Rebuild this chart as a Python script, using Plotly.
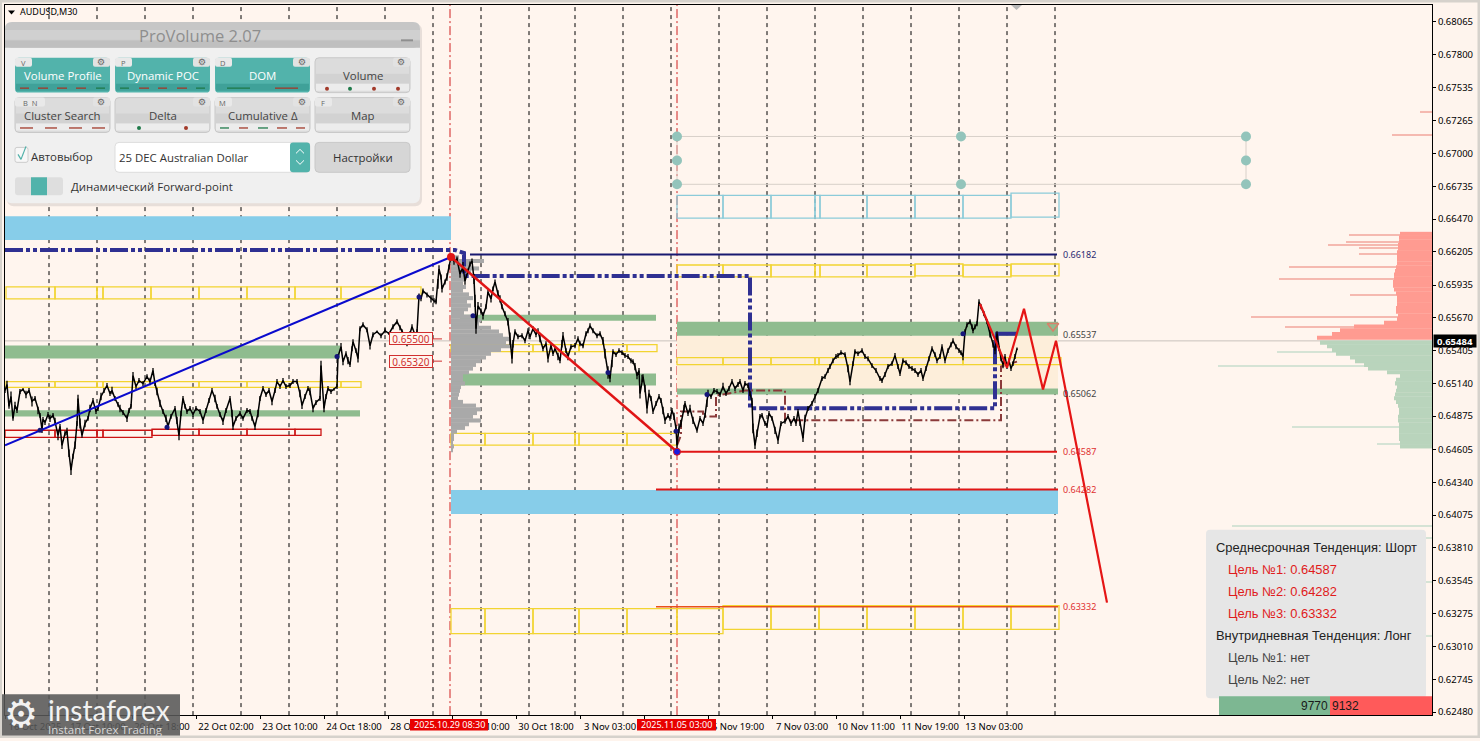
import plotly.graph_objects as go

# ---------- chart data (x = M30 bar number, y = AUDUSD price) ----------
PRICE_BARS = [
 5,7,9,11,13,15,17,20,23,26,
 29,32,35,38,40,42,43,45,48,50,
 53,55,58,60,62,65,67,69,71,73,
 75,77,78,80,82,85,88,90,93,96,
 98,101,104,107,110,112,115,118,120,123,
 127,129,131,133,136,139,143,147,150,153,
 155,157,160,163,166,168,171,175,177,179,
 181,183,185,187,190,193,196,200,203,206,
 209,212,215,217,220,223,226,230,232,233,
 236,240,243,247,250,252,255,258,260,263,
 266,269,272,275,277,280,283,286,290,293,
 297,300,302,305,308,310,313,316,320,321,
 324,326,328,331,334,337,338,341,343,346,
 348,350,352,353,356,358,360,363,367,370,
 373,377,381,385,389,393,397,400,402,405,
 407,410,412,415,417,419,421,423,427,431,
 434,436,438,439,441,442,445,447,449,451,
 454,457,460,463,465,468,470,472,474,475,
 476,478,481,483,486,488,491,493,495,498,
 500,502,505,508,510,512,513,515,518,522,
 525,528,530,533,536,538,540,543,546,548,
 551,553,555,558,560,562,563,566,568,571,
 575,578,580,583,586,588,590,593,597,600,
 603,605,608,610,612,613,616,619,622,625,
 628,631,633,635,637,639,640,642,643,645,
 647,649,651,653,656,659,661,663,665,668,
 670,672,674,676,677,679,681,684,685,688,
 690,693,697,700,703,705,707,708,711,714,
 717,720,723,726,729,732,735,738,740,743,
 745,748,750,752,753,755,757,760,762,765,
 767,769,772,775,778,781,785,788,791,794,
 796,798,800,803,805,808,812,815,818,822,
 825,828,830,833,836,838,841,845,848,850,
 853,855,858,862,865,868,872,876,880,882,
 885,888,892,895,898,900,903,906,909,912,
 915,918,921,923,926,929,932,935,937,940,
 942,945,948,951,953,956,959,961,963,965,
 967,970,972,973,975,977,979,981,984,987,
 990,993,995,997,999,1001,1003,1005,1007,1009,
 1011,1013,1015,1017]
PRICE_CLOSE = [
 .65082,.65131,.64954,.65034,.64857,.64962,.64921,.65074,.65091,.65050,
 .65082,.64994,.65018,.64921,.64881,.64768,.64849,.64824,.64889,.64857,
 .64881,.64833,.6472,.64792,.64639,.64736,.64752,.64575,.64438,.64551,
 .64639,.64816,.65018,.64816,.6472,.64816,.64857,.64937,.65002,.64913,
 .64937,.65034,.65082,.65123,.65058,.65082,.65018,.6497,.64937,.64905,
 .64857,.64921,.64954,.65203,.65115,.65163,.65139,.65195,.65155,.65244,
 .65139,.65074,.64978,.64913,.64857,.64792,.64873,.64937,.64841,.6472,
 .64897,.65018,.64954,.64913,.64937,.64889,.64937,.64913,.64841,.64921,
 .65002,.65082,.65018,.64954,.64889,.64833,.64921,.65018,.64897,.64792,
 .64857,.64897,.64857,.64921,.64913,.64857,.64792,.64897,.65018,.65099,
 .6505,.65082,.64994,.65082,.65155,.65115,.65163,.65115,.65123,.65155,
 .65155,.65058,.64962,.65034,.65099,.65074,.64937,.64986,.65018,.65284,
 .64937,.65034,.65099,.65074,.65091,.65115,.65357,.65437,.65316,.65381,
 .65324,.65292,.65421,.65477,.65405,.6534,.65582,.65614,.65574,.65445,
 .65534,.65558,.65526,.65566,.65542,.65598,.65639,.6559,.65558,.65518,
 .65461,.65542,.65598,.65534,.65558,.65848,.65824,.65888,.65856,.65824,
 .65808,.658,.65945,.66066,.66001,.65905,.65961,.66001,.66082,.66163,
 .6613,.66146,.66025,.66082,.65969,.6605,.66106,.6613,.65985,.65808,
 .65582,.65768,.65727,.65687,.6576,.6588,.65824,.65905,.65961,.65864,
 .65824,.6576,.65703,.65639,.65502,.6534,.65461,.65558,.65518,.65526,
 .65485,.65566,.65518,.65582,.65534,.65566,.65502,.65421,.65461,.6534,
 .65445,.65381,.65421,.65357,.65324,.65461,.65526,.65405,.65357,.65437,
 .65445,.65502,.65461,.65445,.65542,.65566,.65606,.65566,.65526,.65542,
 .65485,.65381,.65228,.65179,.653,.65397,.65373,.65405,.65389,.65365,
 .65357,.65324,.65316,.65276,.65203,.65244,.65058,.65179,.65195,.65099,
 .64937,.65058,.65018,.64913,.64978,.65034,.65002,.64921,.64841,.64881,
 .64857,.64921,.64873,.64776,.64639,.64776,.64816,.64937,.64978,.64897,
 .64937,.64841,.6476,.64857,.64816,.64881,.64978,.65058,.65034,.65082,
 .65074,.6505,.65115,.65058,.65099,.65155,.65099,.65131,.65155,.65082,
 .65139,.65123,.65058,.64994,.64776,.64639,.64736,.64873,.64881,.64816,
 .648,.64897,.64857,.6476,.64679,.64816,.64833,.64873,.64816,.64857,
 .64816,.64913,.64816,.64696,.64857,.64937,.64978,.65034,.65082,.65179,
 .65195,.65244,.65276,.65324,.65357,.65365,.65389,.65373,.6526,.65155,
 .653,.65397,.65381,.65405,.65357,.6534,.65284,.65244,.65179,.65163,
 .65212,.65276,.653,.65365,.65276,.6522,.65324,.65308,.65276,.6526,
 .65244,.65212,.65244,.65179,.6526,.6534,.65421,.65373,.65324,.65357,
 .65437,.65324,.65405,.65453,.65485,.65437,.65405,.65389,.65357,.65558,
 .65614,.65639,.65598,.65566,.65598,.65622,.658,.6576,.65703,.65639,
 .65542,.65461,.65405,.65542,.65421,.6534,.65292,.65357,.65276,.65324,
 .6526,.653,.65357,.65421]
# half of each bar's high-low swing
PRICE_SWING = [
 .0002,.0003,.0002,.0004,.0002,.0003,.0002,.0002,.0001,.0003,
 .0002,.0004,.0002,.0003,.0002,.0003,.0002,.0002,.0002,.0003,
 .0002,.0003,.0004,.0002,.0003,.0002,.0003,.0003,.0004,.0002,
 .0003,.0002,.0003,.0004,.0002,.0003,.0002,.0003,.0002,.0002,
 .0002,.0003,.0002,.0002,.0002,.0003,.0002,.0002,.0003,.0002,
 .0003,.0002,.0002,.0003,.0002,.0002,.0002,.0002,.0003,.0002,
 .0002,.0003,.0003,.0002,.0003,.0003,.0002,.0002,.0003,.0004,
 .0002,.0002,.0002,.0002,.0002,.0002,.0002,.0002,.0003,.0002,
 .0002,.0002,.0003,.0002,.0002,.0003,.0002,.0002,.0003,.0003,
 .0002,.0002,.0002,.0002,.0002,.0002,.0003,.0003,.0002,.0002,
 .0002,.0002,.0003,.0002,.0002,.0002,.0002,.0002,.0002,.0002,
 .0002,.0003,.0003,.0002,.0002,.0003,.0003,.0002,.0002,.0004,
 .0003,.0002,.0002,.0002,.0001,.0002,.0002,.0003,.0003,.0002,
 .0003,.0002,.0002,.0002,.0002,.0003,.0002,.0002,.0002,.0003,
 .0002,.0001,.0002,.0002,.0001,.0002,.0002,.0002,.0002,.0002,
 .0002,.0002,.0002,.0002,.0002,.0002,.0002,.0002,.0002,.0003,
 .0002,.0002,.0004,.0003,.0002,.0003,.0002,.0003,.0002,.0002,
 .0003,.0002,.0003,.0004,.0003,.0002,.0002,.0002,.0004,.0005,
 .0004,.0003,.0002,.0003,.0002,.0002,.0003,.0002,.0002,.0003,
 .0003,.0002,.0002,.0003,.0005,.0004,.0003,.0002,.0002,.0002,
 .0002,.0002,.0002,.0002,.0002,.0002,.0003,.0002,.0002,.0003,
 .0002,.0002,.0002,.0003,.0002,.0003,.0003,.0002,.0003,.0002,
 .0002,.0002,.0002,.0002,.0002,.0002,.0002,.0002,.0002,.0002,
 .0003,.0004,.0005,.0003,.0003,.0002,.0002,.0002,.0002,.0002,
 .0002,.0002,.0002,.0003,.0003,.0002,.0004,.0003,.0002,.0003,
 .0004,.0003,.0002,.0002,.0002,.0002,.0002,.0003,.0003,.0002,
 .0002,.0002,.0003,.0003,.0003,.0004,.0003,.0003,.0002,.0002,
 .0003,.0003,.0002,.0002,.0002,.0002,.0003,.0003,.0002,.0002,
 .0002,.0002,.0003,.0002,.0002,.0002,.0002,.0002,.0002,.0002,
 .0002,.0002,.0002,.0003,.0004,.0003,.0003,.0002,.0002,.0002,
 .0002,.0002,.0002,.0003,.0003,.0002,.0002,.0002,.0002,.0002,
 .0002,.0002,.0002,.0003,.0003,.0002,.0002,.0002,.0002,.0002,
 .0002,.0002,.0002,.0002,.0002,.0002,.0002,.0002,.0003,.0003,
 .0002,.0002,.0002,.0002,.0002,.0002,.0002,.0002,.0002,.0002,
 .0002,.0002,.0002,.0002,.0002,.0002,.0002,.0002,.0002,.0002,
 .0002,.0002,.0002,.0002,.0002,.0002,.0002,.0002,.0002,.0002,
 .0002,.0002,.0002,.0002,.0002,.0002,.0002,.0002,.0003,.0002,
 .0002,.0002,.0002,.0002,.0002,.0002,.0002,.0002,.0002,.0002,
 .0003,.0003,.0003,.0002,.0002,.0002,.0003,.0002,.0002,.0002,
 .0002,.0002,.0002,.0001]

Y_TICKS = ["0.68065","0.67800","0.67535","0.67265","0.67000","0.66735","0.66470","0.66205",
           "0.65935","0.65670","0.65405","0.65140","0.64875","0.64605","0.64340","0.64075",
           "0.63810","0.63545","0.63275","0.63010","0.62745","0.62480"]
X_TICK_BARS = [5,68,132,196,260,324,388,452,516,580,644,708,772,836,900,964]
X_TICK_TEXT = ["16 Oct 2025","17 Oct 10:00","20 Oct 18:00","22 Oct 02:00","23 Oct 10:00","24 Oct 18:00",
               "28 Oct 02:00","29 Oct 10:00","30 Oct 18:00","3 Nov 03:00","","5 Nov 19:00",
               "7 Nov 03:00","10 Nov 11:00","11 Nov 19:00","13 Nov 03:00"]
DAY_BARS = [49,97,145,193,241,289,337,385,433,481,529,575,623,671,719,767,815,863,911,959,1007,1055]
EVENT_BARS = [450,677]
BID = 0.65484
LAST_BAR = 1432

TARGET_LEVELS = [0.66182,0.64587,0.64282,0.63332]
TARGET_START = [470,677,656,656]
TARGET_END = [1057,1057,1058,1058]
TARGET_COLORS = ["#191970","#e01515","#e01515","#e8501a"]
TARGET_WIDTHS = [2,2,2,1.5]
TARGET_LABELS = ["0.66182","0.64587","0.64282","0.63332"]

TREND_UP_BARS = [5,451];  TREND_UP = [.64639,.66163]
TREND_DN_BARS = [451,677]; TREND_DN = [.66163,.64587]
FORECAST_BARS = [980,1007,1024,1043,1056,1107]
FORECAST = [.65784,.65268,.65743,.65091,.65485,.63366]
POC_BARS = [5,455,464,464,750,750,995,995]
POC = [.66219,.66219,.66195,.66010,.66010,.64938,.64938,.65421]
POC_TAIL_BARS = [995,997,1017]
POC_TAIL = [.65421,.65542,.65542]
MAROON_BARS = [677,681,681,703,703,716,716,745,785,785,1001,1001,1017]
MAROON = [.64639,.6472,.64913,.64913,.64873,.64873,.65042,.65082,.65082,.64841,.64841,.65276,.65316]
PIVOT_BARS = [337,167,40,473,608,707,963,676,419]
PIVOTS = [.65357,.64786,.64761,.65687,.65228,.65051,.65542,.64752,.65840]
GRID_NODE_BARS = [677,961,1246,677,1246,677,961,1246]
GRID_NODES = [.67138,.67138,.67138,.66944,.66944,.66751,.66751,.66751]

# filled zones: first bar, last bar, top price, bottom price
SKY_ZONES = [(5,451,.66493,.66300),(451,1058,.64277,.64084)]
GREEN_ZONES = [(5,340,.65446,.65341),(5,360,.64922,.64873),(460,656,.65695,.65647),(451,656,.65220,.65123),
               (677,1058,.65639,.65526),(677,1058,.65099,.65051)]
BEIGE_ZONE = (677,1058,.65526,.65099)
# boxes in a row: bar boundaries, top price, bottom price
YELLOW_ROWS = [
 ([6,55,97,103,151,199,247,295,341,389,421],.65921,.65824),
 ([6,55,97,103,199,247,337,341,361],.65155,.65107),
 ([451,485,533,579,627,657],.65454,.65397),
 ([451,485,533,575,579,627,677],.64736,.64640),
 ([677,723,771,815,819,963,1061],.65349,.65292),
 ([677,723,771,815,820,867,915],.66098,.66002),
 ([915,963],.66106,.66010),([963,1011],.66098,.66002),([1011,1059],.66106,.66010),
 ([451,485,533,579,627,677,723],.63318,.63116),
 ([723,771,819,867,915,963,1011,1059],.63342,.63149)]
SKY_ROWS = [([677,723,771,815,820,867,915,963,1011],.66662,.66477),([1011,1059],.66679,.66485)]
RED_ROWS = [([5,55,97,103,152],.64761,.64704),([152,199,247,295,321],.64769,.64720)]

# session volume profile
PROFILE_LEVELS = [.6616,.6613,.661,.6607,.6604,.6601,.6598,.6595,.6592,.6589,.6586,.6583,.658,.6577,.6574,.6571,.6568,.6565,
 .6562,.6559,.6556,.6553,.655,.6547,.6544,.6541,.6538,.6535,.6532,.6529,.6526,.6523,.652,.6517,.6514,.6511,.6508,.6505,.6502,
 .6499,.6496,.6493,.649,.6487,.6484,.6481,.6478,.6475,.6472,.6469,.6466,.6463,.646]
PROFILE_VOLUME = [8,33,20,28,20,15,14,12,15,12,18,22,16,20,17,13,22,30,28,40,48,52,58,55,62,50,40,35,30,25,22,18,12,12,14,10,9,8,7,
 12,25,30,26,22,30,18,14,6,3,3,2,3,2]
# order book
ASK_LEVELS = [.6635,.6632,.6629,.6626,.6623,.662,.6617,.6614,.6611,.6608,.6605,.6602,.6599,.6596,.6593,.659,.6587,.6584,.6581,.6578,
 .6575,.6572,.6569,.6566,.6563,.656,.6557,.6554,.6551]
ASK_SIZE = [32,33,33,34,34,35,35,35,35,36,37,38,38,39,39,38,36,35,35,35,36,36,34,35,48,78,92,100,115]
BID_LEVELS = [.6547,.6544,.6541,.6538,.6535,.6532,.6529,.6526,.6523,.652,.6517,.6514,.6511,.6508,.6505,.6502,.6499,.6496,.6493,.649,
 .6487,.6484,.6481,.6478,.6475,.6472,.6469,.6466,.6463]
BID_SIZE = [112,105,100,96,82,77,68,64,45,32,36,37,35,36,37,38,36,34,33,33,34,34,33,33,33,33,33,32,32]
ASK_SPIKE_LEVELS = [.6734,.67154,.6634,.66284,.6626,.66235,.66187,.66082,.65985,.65856,.65679,.65598]
ASK_SPIKE_SIZE = [12,40,83,86,104,73,73,143,153,82,181,147]
BID_SPIKE_LEVELS = [.65397,.65284,.64785,.64648,.63987,.6389,.6353,.6310]
BID_SPIKE_SIZE = [155,214,140,55,200,9,8,30]

INFO_LINES = [("Среднесрочная Тенденция: Шорт",1216,"#222222"),("Цель №1: 0.64587",1228,"#e01b1b"),("Цель №2: 0.64282",1228,"#e01b1b"),
              ("Цель №3: 0.63332",1228,"#e01b1b"),("Внутридневная Тенденция: Лонг",1216,"#222222"),("Цель №1: нет",1228,"#444444"),("Цель №2: нет",1228,"#444444")]

# ---------- helpers ----------
W, H = 1480, 741
def X(px): return px / W
def Y(py): return 1 - py / H
shapes, notes = [], []

def rect(x0, y0, x1, y1, fill, line=None, lw=0, layer="above"):
    shapes.append(dict(type="rect", xref="paper", yref="paper", x0=X(x0), x1=X(x1), y0=Y(y0), y1=Y(y1),
                       fillcolor=fill, line=dict(color=line or fill, width=lw), layer=layer))
def rrect(x0, y0, x1, y1, r, fill, line=None, lw=0):
    p = (f"M{X(x0+r)},{Y(y0)} L{X(x1-r)},{Y(y0)} Q{X(x1)},{Y(y0)} {X(x1)},{Y(y0+r)} "
         f"L{X(x1)},{Y(y1-r)} Q{X(x1)},{Y(y1)} {X(x1-r)},{Y(y1)} L{X(x0+r)},{Y(y1)} "
         f"Q{X(x0)},{Y(y1)} {X(x0)},{Y(y1-r)} L{X(x0)},{Y(y0+r)} Q{X(x0)},{Y(y0)} {X(x0+r)},{Y(y0)} Z")
    shapes.append(dict(type="path", xref="paper", yref="paper", path=p, fillcolor=fill,
                       line=dict(color=line or fill, width=lw), layer="above"))
def seg(x0, y0, x1, y1, color, lw=1):
    shapes.append(dict(type="line", xref="paper", yref="paper", x0=X(x0), x1=X(x1), y0=Y(y0), y1=Y(y1),
                       line=dict(color=color, width=lw), layer="above"))
def dot(x, y, r, color):
    shapes.append(dict(type="circle", xref="paper", yref="paper", x0=X(x-r), x1=X(x+r), y0=Y(y-r), y1=Y(y+r),
                       fillcolor=color, line=dict(width=0), layer="above"))
def text(x, y, s, size, color, anchor="left", font="Open Sans"):
    notes.append(dict(xref="paper", yref="paper", x=X(x), y=Y(y), text=s, showarrow=False, xanchor=anchor, yanchor="middle",
                      font=dict(family=font, size=size, color=color), borderpad=0, borderwidth=0))
def zone(z, fill):
    shapes.append(dict(type="rect", xref="x", yref="y", x0=z[0], x1=z[1], y0=z[3], y1=z[2], fillcolor=fill,
                       line=dict(width=0), layer="below"))
def box_rows(rows, color, lw=1.3):
    for bounds, top, bot in rows:
        for a, b in zip(bounds[:-1], bounds[1:]):
            shapes.append(dict(type="rect", xref="x", yref="y", x0=a, x1=b, y0=bot, y1=top,
                               line=dict(color=color, width=lw), fillcolor="rgba(0,0,0,0)", layer="below"))

# ---------- zones and grid ----------
zone(BEIGE_ZONE, "#fdeeda")
for z in SKY_ZONES: zone(z, "#87cde9")
for z in GREEN_ZONES: zone(z, "#8fbc8f")
for b in DAY_BARS:
    shapes.append(dict(type="line", xref="x", yref="y domain", x0=b, x1=b, y0=0, y1=1,
                       line=dict(color="#000000", width=1, dash="4px,4px"), layer="below"))
for b in EVENT_BARS:
    shapes.append(dict(type="line", xref="x", yref="y domain", x0=b, x1=b, y0=0, y1=1,
                       line=dict(color="#d02020", width=1, dash="9px,3px,2px,3px"), layer="below"))
shapes.append(dict(type="line", xref="x domain", yref="y", x0=0, x1=1, y0=BID, y1=BID,
                   line=dict(color="#c9c2bc", width=1), layer="below"))
box_rows(YELLOW_ROWS, "#f2d431")
box_rows(SKY_ROWS, "#8ccbd9")
box_rows(RED_ROWS, "#cc1414")

# ---------- traces ----------
fig = go.Figure()
def hbar(levels, sizes, base, sign, color, thick):
    fig.add_trace(go.Bar(orientation="h", y=levels, x=[sign*s for s in sizes], base=base, width=thick,
                         marker=dict(color=color, line=dict(width=0)), hoverinfo="skip"))
def line(xs, ys, color, width, dash="solid"):
    fig.add_trace(go.Scatter(x=xs, y=ys, mode="lines", line=dict(color=color, width=width, dash=dash), hoverinfo="skip"))

hbar(ASK_SPIKE_LEVELS, ASK_SPIKE_SIZE, LAST_BAR, -1, "#f5b9b0", .00009)
hbar(BID_SPIKE_LEVELS, BID_SPIKE_SIZE, LAST_BAR, -1, "#d5e3d5", .00009)
hbar(ASK_LEVELS, ASK_SIZE, LAST_BAR, -1, "#ff9b91", .00033)
hbar(BID_LEVELS, BID_SIZE, LAST_BAR, -1, "#b9d4bc", .00033)
hbar(PROFILE_LEVELS, PROFILE_VOLUME, EVENT_BARS[0]+1, 1, "#a9a9a9", .00033)

line([677,1246,1246,677,677], [.67138,.67138,.66751,.66751,.67138], "#d8d0c9", 1)
fig.add_trace(go.Scatter(x=GRID_NODE_BARS, y=GRID_NODES, mode="markers", marker=dict(color="#93c4bb", size=10), hoverinfo="skip"))
line(POC_BARS, POC, "#2f3092", 4, "18px,3px,4px,3px,4px,3px")
line(POC_TAIL_BARS, POC_TAIL, "#2f3092", 4)
line(MAROON_BARS, MAROON, "#8b3a3a", 2, "9px,3px,2px,3px")
fig.add_trace(go.Scatter(x=PRICE_BARS, y=PRICE_CLOSE, mode="lines", line=dict(color="#000000", width=1.5), hoverinfo="skip",
                         error_y=dict(type="data", array=PRICE_SWING, visible=True, thickness=1.3, width=0, color="#000000")))
for lvl, a, b, c, w in zip(TARGET_LEVELS, TARGET_START, TARGET_END, TARGET_COLORS, TARGET_WIDTHS):
    line([a, b], [lvl, lvl], c, w)
line(TREND_UP_BARS, TREND_UP, "#0a0acd", 2)
line(TREND_DN_BARS, TREND_DN, "#e01515", 2.5)
line(FORECAST_BARS, FORECAST, "#e51515", 2.2)
fig.add_trace(go.Scatter(x=PIVOT_BARS, y=PIVOTS, mode="markers", marker=dict(color="#15157a", size=5), hoverinfo="skip"))
fig.add_trace(go.Scatter(x=[451], y=[TREND_DN[0]], mode="markers", marker=dict(color="#e01515", size=8), hoverinfo="skip"))
fig.add_trace(go.Scatter(x=[677], y=[TREND_DN[1]], mode="markers", marker=dict(color="#1a1ae0", size=7, line=dict(color="#e01515", width=1)), hoverinfo="skip"))
fig.add_trace(go.Scatter(x=[1053], y=[.65605], mode="markers", marker=dict(symbol="triangle-down-open", color="#d8806a", size=10, line=dict(width=1.5)), hoverinfo="skip"))
line([432,442], [.65500,.65500], "#d03030", 1)
line([432,442], [.65320,.65320], "#d03030", 1)

# ---------- level labels ----------
def level_label(bar, price, s, color, size=9):
    notes.append(dict(xref="x", yref="y", x=bar, y=price, text=s, showarrow=False, xanchor="left", yanchor="middle",
                      font=dict(family="Noto Sans", size=size, color=color)))
for lvl, s, c in zip(TARGET_LEVELS, TARGET_LABELS, ["#2a2a70","#e03030","#e03030","#e03030"]):
    level_label(1061, lvl, s, c)
level_label(1061, .65537, "0.65537", "#444444")
level_label(1061, .65062, "0.65062", "#444444")
for p, s in [(.65500, "0.65500"), (.65320, "0.65320")]:
    notes.append(dict(xref="x", yref="y", x=410.5, y=p, text=s, showarrow=False, xanchor="center", yanchor="middle", width=42, height=11,
                      bgcolor="#fff5ee", bordercolor="#d03030", borderwidth=1, borderpad=0, font=dict(family="Noto Sans", size=10, color="#d03030")))
notes.append(dict(xref="paper", yref="y", x=X(1455), y=BID, text="<b>0.65484</b>", showarrow=False, xanchor="center", yanchor="middle",
                  bgcolor="#000000", font=dict(family="Noto Sans", size=9.5, color="#ffffff"), width=42, height=12, borderpad=0))

# ---------- top-left title ----------
text(20, 12, "AUDUSD,M30", 9, "#000000", font="Noto Sans")
shapes.append(dict(type="path", xref="paper", yref="paper", fillcolor="#000000", line=dict(width=0), layer="above",
                   path=f"M{X(8)},{Y(10.5)} L{X(15)},{Y(10.5)} L{X(11.5)},{Y(14.5)} Z"))
shapes.append(dict(type="path", xref="paper", yref="paper", fillcolor="#b8b8b8", line=dict(width=0), layer="above",
                   path=f"M{X(1011)},{Y(5)} L{X(1022)},{Y(5)} L{X(1016.5)},{Y(10)} Z"))

# ---------- ProVolume panel ----------
rrect(7, 24, 422, 207, 7, "rgba(120,120,120,0.18)")
rrect(5, 22, 420, 204, 7, "#f0f0f0")
rrect(5, 22, 420, 48, 7, "#c6c6c6")
rect(5, 30, 420, 40, "#d0d0d0")
rect(5, 41, 420, 48, "#bfbfbf")
text(200, 36, "ProVolume 2.07", 16.5, "#8e8e8e", "center")
seg(401, 40.5, 413, 40.5, "#8f8f8f", 2)

RED, GREEN = "#a23a2a", "#1f7a4a"
BUTTONS = [
 (15,58,"Volume Profile","V",True),(115,58,"Dynamic POC","P",True),(215,58,"DOM","D",True),(315,58,"Volume","",False),
 (15,98,"Cluster Search","B  N",False),(115,98,"Delta","",False),(215,98,"Cumulative Δ","M",False),(315,98,"Map","F",False)]
for bx, by, label, tag, on in BUTTONS:
    body = "#52b3ab" if on else "#dcdcdc"
    strip = "#3fa199" if on else "#ececec"
    rrect(bx, by, bx+95, by+35, 4, body, None if on else "#c8c8c8", 0 if on else 1)
    if not on:
        rect(bx+1, by+16, bx+94, by+26, "#d2d2d2")
    rect(bx+1, by+26, bx+94, by+33, strip)
    text(bx+47.5, by+18, label, 11.4, "#ffffff" if on else "#444444", "center")
    if tag:
        rrect(bx, by, bx+(30 if len(tag) > 1 else 17), by+9, 2, "#e9e9e9")
        text(bx+(15 if len(tag) > 1 else 8), by+5, tag, 7.5, "#666666", "center")
    rrect(bx+78, by, bx+95, by+9, 2, "#e2e2e2")
    text(bx+86.5, by+4.5, "⚙", 9, "#666666", "center", "DejaVu Sans")
for a, b, c in [(20,29,RED),(38,48,RED),(57,67,RED),(76,86,RED),(96,105,GREEN),(120,129,GREEN),(139,149,RED),(158,167,RED),
                (177,187,RED),(196,205,GREEN),(227,250,GREEN),(275,298,RED)]:
    seg(a, 88.5, b, 88.5, c, 1.3)
for a, b, c in [(20,33,RED),(45,57,RED),(69,82,RED),(92,105,RED),(220,229,GREEN),(239,248,RED),(258,268,GREEN),(277,287,RED),(296,305,RED)]:
    seg(a, 128.5, b, 128.5, c, 1.3)
for a, py, c in [(327,89,RED),(350,89,GREEN),(374,89,RED),(398,89,RED),(139,128.5,GREEN),(186,128.5,RED)]:
    dot(a, py, 2, c)

rrect(15, 148, 28, 163, 2, "#f7f7f7", "#cccccc", 1)
seg(18, 155, 21, 160, "#4fb0a8", 1.2)
seg(21, 160, 26, 147, "#4fb0a8", 1.2)
text(31, 157, "Автовыбор", 11.4, "#333333")
rrect(115, 143, 310, 173, 4, "#ffffff", "#dddddd", 1)
rrect(290, 143, 310, 173, 3, "#52b3ab")
for y0, y1 in [(154, 150), (161, 165)]:
    seg(296, y0, 300, y1, "#ffffff", 1)
    seg(300, y1, 304, y0, "#ffffff", 1)
text(119, 158.5, "25 DEC Australian Dollar", 11.4, "#333333")
rrect(315, 143, 410, 173, 4, "#d6d6d6", "#c8c8c8", 1)
text(362.5, 158.5, "Настройки", 11.4, "#333333", "center")
rrect(15, 178, 63, 196, 3, "#dedede")
rect(31, 178, 47, 196, "#52b3ab")
text(71, 187, "Динамический Forward-point", 11.4, "#333333")

# ---------- info box ----------
rrect(1206, 532, 1426, 701, 4, "#e6e6e6")
for (s, x, c), py in zip(INFO_LINES, [550,572,594,616,638,660,682]):
    text(x, py, s, 12.9, c, font="Liberation Sans")
rect(1219, 699, 1330, 718, "#7db792")
rect(1330, 699, 1432, 718, "#ff5a5a")
text(1328, 709, "9770", 12, "#1a1a1a", "right", "Liberation Sans")
text(1332, 709, "9132", 12, "#1a1a1a", "left", "Liberation Sans")

# ---------- event date tags ----------
for x0, x1, s in [(410,488,"2025.10.29 08:30"),(637,716,"2025.11.05 03:00")]:
    rect(x0, 722, x1, 733.5, "#e80000")
    text((x0+x1)/2, 727.5, s, 9, "#ffffff", "center", "Noto Sans")

# ---------- watermark ----------
rect(0, 697, 180, 741, "rgba(88,88,88,0.88)")
text(4, 717, "⚙", 38, "#f2f2f2", "left", "DejaVu Sans")
text(48, 713, "instaforex", 28, "#f2f2f2", "left", "Lato")
text(48, 732, "Instant Forex Trading", 11.5, "#d8d8d8", "left", "Open Sans")

# ---------- window frame ----------
rect(0, 0, 1480, 2.5, "#d6d2cc")
rect(0, 0, 2, 741, "#d6d2cc")
rect(1477.5, 0, 1480, 741, "#d6d2cc")
rect(0, 738.5, 1480, 741, "#d6d2cc")

fig.update_layout(
    width=W, height=H, autosize=False, showlegend=False, barmode="overlay", hovermode=False,
    margin=dict(l=0, r=0, t=0, b=0, pad=0),
    paper_bgcolor="#fef4ed", plot_bgcolor="#fff5ee",
    shapes=shapes, annotations=notes,
    xaxis=dict(domain=[5/W, LAST_BAR/W], range=[5, LAST_BAR], showgrid=False, zeroline=False, showline=True, mirror=True,
               linecolor="#000000", linewidth=1, ticks="outside", ticklen=3, tickcolor="#000000",
               tickmode="array", tickvals=X_TICK_BARS, ticktext=X_TICK_TEXT, tickangle=0, ticklabelshift=30,
               tickfont=dict(family="Noto Sans", size=9.5, color="#000000")),
    yaxis=dict(domain=[1-718/H, 1-5/H], range=[.62456, .68202], side="right", showgrid=False, zeroline=False, showline=True, mirror=True,
               linecolor="#000000", linewidth=1, ticks="outside", ticklen=3, tickcolor="#000000",
               tickmode="array", tickvals=[float(t) for t in Y_TICKS], ticktext=Y_TICKS,
               tickfont=dict(family="Noto Sans", size=9.5, color="#000000")),
)
PAGE_FIX = ("var r=document.documentElement,b=document.body;"
            "r.style.margin=b.style.margin='0';r.style.padding=b.style.padding='0';"
            "r.style.height=b.style.height='741px';r.style.overflow=b.style.overflow='hidden';")
fig.write_html("out.html", config=dict(displayModeBar=False), post_script=PAGE_FIX)
